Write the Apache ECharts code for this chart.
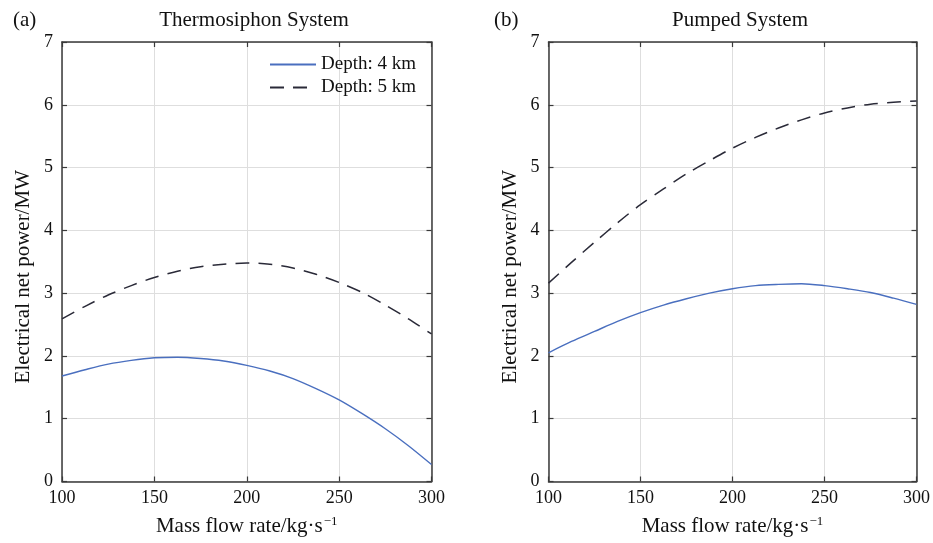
<!DOCTYPE html>
<html>
<head>
<meta charset="utf-8">
<script src="https://cdn.jsdelivr.net/npm/echarts@6/dist/echarts.min.js"></script>
<style>html,body{margin:0;padding:0;background:#fff}#c{width:933px;height:543px}</style>
</head>
<body>
<div id="c"></div>
<script>
var flowRates = [100, 112.5, 125, 137.5, 150, 162.5, 175, 187.5, 200, 212.5, 225, 237.5, 250, 262.5, 275, 287.5, 300];
var thermo4km = [1.68, 1.78, 1.87, 1.93, 1.97, 1.98, 1.96, 1.92, 1.85, 1.76, 1.64, 1.48, 1.30, 1.08, 0.84, 0.57, 0.27];
var thermo5km = [2.59, 2.79, 2.97, 3.12, 3.25, 3.35, 3.42, 3.46, 3.48, 3.46, 3.40, 3.30, 3.17, 3.01, 2.81, 2.59, 2.35];
var pumped4km = [2.05, 2.23, 2.39, 2.55, 2.69, 2.81, 2.91, 3.00, 3.07, 3.12, 3.14, 3.15, 3.12, 3.07, 3.01, 2.92, 2.82];
var pumped5km = [3.16, 3.49, 3.81, 4.12, 4.41, 4.66, 4.90, 5.11, 5.31, 5.48, 5.63, 5.76, 5.87, 5.95, 6.01, 6.04, 6.06];
var xTicks = [100, 150, 200, 250, 300];
var yTicks = [0, 1, 2, 3, 4, 5, 6, 7];
var seriesNames = ['Depth: 4 km', 'Depth: 5 km'];

function pairs(xs, ys) { return xs.map(function (x, i) { return [x, ys[i]]; }); }

var FONT = 'Liberation Serif';
var AX = '#3a3a3a';
var BLUE = '#4a6fbf';
var DARK = '#2a2a38';

function xAxes(gi) {
  return [{
    type: 'value', gridIndex: gi, min: xTicks[0], max: xTicks[xTicks.length - 1], interval: 50,
    axisLine: { show: true, onZero: false, lineStyle: { color: AX, width: 1.5 } },
    axisTick: { show: true, inside: true, length: 5, lineStyle: { color: AX, width: 1.2 } },
    axisLabel: { color: '#111', fontFamily: FONT, fontSize: 18, margin: 8 },
    splitLine: { show: true, lineStyle: { color: '#dedede', width: 1 } },
    name: '{a|Mass flow rate/kg·s}{b|−1}', nameLocation: 'middle', nameGap: 34,
    nameTextStyle: { rich: { a: { fontFamily: FONT, fontSize: 21, color: '#111' }, b: { fontFamily: FONT, fontSize: 13, color: '#111', verticalAlign: 'top', padding: [0, 0, 9, 1] } } }
  }, {
    type: 'value', gridIndex: gi, position: 'top', min: 100, max: 300, interval: 50,
    axisLine: { show: true, onZero: false, lineStyle: { color: AX, width: 1.5 } },
    axisTick: { show: true, inside: true, length: 5, lineStyle: { color: AX, width: 1.2 } },
    axisLabel: { show: false }, splitLine: { show: false }
  }];
}
function yAxes(gi) {
  return [{
    type: 'value', gridIndex: gi, min: yTicks[0], max: yTicks[yTicks.length - 1], interval: 1,
    axisLine: { show: true, onZero: false, lineStyle: { color: AX, width: 1.5 } },
    axisTick: { show: true, inside: true, length: 5, lineStyle: { color: AX, width: 1.2 } },
    axisLabel: { color: '#111', fontFamily: FONT, fontSize: 18, margin: 9 },
    splitLine: { show: true, lineStyle: { color: '#dedede', width: 1 } },
    name: 'Electrical net power/MW', nameLocation: 'middle', nameGap: 28,
    nameTextStyle: { fontFamily: FONT, fontSize: 21, color: '#111', padding: [0, 30, 0, 0] }
  }, {
    type: 'value', gridIndex: gi, position: 'right', min: 0, max: 7, interval: 1,
    axisLine: { show: true, onZero: false, lineStyle: { color: AX, width: 1.5 } },
    axisTick: { show: true, inside: true, length: 5, lineStyle: { color: AX, width: 1.2 } },
    axisLabel: { show: false }, splitLine: { show: false }
  }];
}

function line(name, data, xi, yi, dashed) {
  return {
    name: name, type: 'line', xAxisIndex: xi, yAxisIndex: yi, data: data,
    smooth: 0.3, showSymbol: false, symbol: 'none', silent: true,
    lineStyle: dashed ? { color: DARK, width: 1.5, type: [14, 9] } : { color: BLUE, width: 1.4 },
    itemStyle: { color: dashed ? DARK : BLUE }
  };
}

var chart = echarts.init(document.getElementById('c'), null, { renderer: 'canvas' });
chart.setOption({
  animation: false,
  backgroundColor: '#fff',
  textStyle: { fontFamily: FONT },
  title: [
    { text: 'Thermosiphon System', left: 249, top: 5, textAlign: 'center', textStyle: { fontFamily: FONT, fontSize: 21, fontWeight: 'normal', color: '#111' } },
    { text: 'Pumped System', left: 735, top: 5, textAlign: 'center', textStyle: { fontFamily: FONT, fontSize: 21, fontWeight: 'normal', color: '#111' } },
    { text: '(a)', left: 8, top: 5, textStyle: { fontFamily: FONT, fontSize: 21, fontWeight: 'normal', color: '#111' } },
    { text: '(b)', left: 489, top: 5, textStyle: { fontFamily: FONT, fontSize: 21, fontWeight: 'normal', color: '#111' } }
  ],
  legend: {
    data: seriesNames, orient: 'vertical', left: 264, top: 50, itemWidth: 46, itemHeight: 14, itemGap: 4,
    textStyle: { fontFamily: FONT, fontSize: 19, color: '#111' }, selectedMode: false,
    itemStyle: { color: 'rgba(0,0,0,0)', borderColor: 'rgba(0,0,0,0)', borderWidth: 0, opacity: 0 }
  },
  grid: [
    { left: 62, right: 501.5, top: 42, bottom: 61.5 },
    { left: 548.5, right: 15.3, top: 42, bottom: 61.5 }
  ],
  xAxis: xAxes(0).concat(xAxes(1)),
  yAxis: yAxes(0).concat(yAxes(1)),
  series: [
    line(seriesNames[0], pairs(flowRates, thermo4km), 0, 0, false),
    line(seriesNames[1], pairs(flowRates, thermo5km), 0, 0, true),
    line(seriesNames[0], pairs(flowRates, pumped4km), 2, 2, false),
    line(seriesNames[1], pairs(flowRates, pumped5km), 2, 2, true)
  ]
});
</script>
</body>
</html>
